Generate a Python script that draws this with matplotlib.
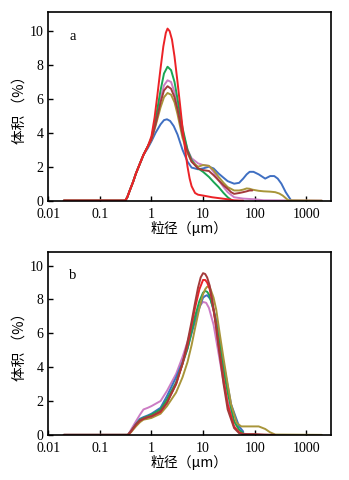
import matplotlib
matplotlib.use("Agg")
import matplotlib.pyplot as plt

# ---------------- data ----------------
xticks = [0.01, 0.1, 1, 10, 100, 1000]
xtick_labels = ["0.01", "0.1", "1", "10", "100", "1000"]
yticks = [0, 2, 4, 6, 8, 10]

# panel a
a_blue_x = [0.02, 0.31, 0.34, 0.38, 0.44, 0.5, 0.6, 0.7, 0.85, 1, 1.2, 1.5, 1.75, 2, 2.3, 2.7, 3.2, 4, 5, 6, 8, 10, 13, 16, 20, 25, 30, 40, 50, 60, 70, 80, 95, 120, 160, 200, 240, 280, 330, 400, 500]
a_blue_y = [0, 0, 0.2, 0.6, 1.1, 1.6, 2.2, 2.7, 3.1, 3.5, 4.0, 4.5, 4.75, 4.8, 4.7, 4.4, 3.9, 3.0, 2.3, 1.95, 1.85, 1.9, 2.0, 1.9, 1.6, 1.35, 1.15, 1.0, 1.05, 1.3, 1.55, 1.7, 1.7, 1.55, 1.3, 1.45, 1.45, 1.3, 1.0, 0.5, 0.05]

a_red_x = [0.02, 0.31, 0.34, 0.38, 0.44, 0.5, 0.6, 0.7, 0.85, 1, 1.15, 1.3, 1.5, 1.7, 1.9, 2.05, 2.25, 2.5, 2.8, 3.2, 3.6, 4, 4.5, 5, 5.5, 6, 7, 8, 10, 15, 20, 30, 40, 60]
a_red_y = [0, 0, 0.2, 0.6, 1.1, 1.6, 2.2, 2.7, 3.2, 3.8, 4.9, 6.2, 7.8, 9.1, 9.9, 10.15, 10.0, 9.5, 8.5, 7.0, 5.6, 4.3, 3.0, 2.0, 1.3, 0.85, 0.45, 0.35, 0.3, 0.2, 0.15, 0.08, 0.02, 0]

a_green_x = [0.02, 0.31, 0.34, 0.38, 0.44, 0.5, 0.6, 0.7, 0.85, 1, 1.2, 1.5, 1.75, 2.05, 2.4, 2.8, 3.2, 4, 5, 6, 8, 10, 13, 16, 20, 25, 30, 35]
a_green_y = [0, 0, 0.2, 0.6, 1.1, 1.6, 2.2, 2.7, 3.2, 3.7, 4.8, 6.5, 7.5, 7.9, 7.7, 7.0, 6.0, 4.3, 3.0, 2.4, 1.9, 1.7, 1.4, 1.1, 0.8, 0.45, 0.2, 0.05]

a_pink_x = [0.02, 0.31, 0.34, 0.38, 0.44, 0.5, 0.6, 0.7, 0.85, 1, 1.2, 1.5, 1.75, 2.05, 2.4, 2.8, 3.2, 4, 5, 6, 8, 10, 13, 16, 20, 25, 30, 40, 60, 100, 150, 2000]
a_pink_y = [0, 0, 0.2, 0.6, 1.1, 1.6, 2.2, 2.7, 3.2, 3.6, 4.6, 6.0, 6.8, 7.1, 7.0, 6.4, 5.6, 4.1, 3.0, 2.5, 2.2, 2.1, 2.05, 1.7, 1.2, 0.8, 0.5, 0.2, 0.12, 0.08, 0.02, 0]

a_brown_x = [0.02, 0.31, 0.34, 0.38, 0.44, 0.5, 0.6, 0.7, 0.85, 1, 1.2, 1.5, 1.75, 2.05, 2.4, 2.8, 3.2, 4, 5, 6, 8, 10, 13, 16, 20, 25, 30, 35, 40, 50, 60, 70, 80, 90]
a_brown_y = [0, 0, 0.2, 0.6, 1.1, 1.6, 2.2, 2.7, 3.2, 3.6, 4.5, 5.8, 6.5, 6.75, 6.6, 6.1, 5.4, 3.9, 2.9, 2.3, 1.9, 1.8, 1.75, 1.5, 1.2, 0.9, 0.7, 0.5, 0.4, 0.45, 0.5, 0.55, 0.6, 0.6]

a_olive_x = [0.02, 0.31, 0.34, 0.38, 0.44, 0.5, 0.6, 0.7, 0.85, 1, 1.2, 1.5, 1.75, 2.05, 2.4, 2.8, 3.2, 4, 5, 6, 8, 10, 13, 16, 20, 25, 30, 40, 50, 60, 70, 80, 90, 120, 150, 200, 250, 300, 350, 400, 450, 2000]
a_olive_y = [0, 0, 0.2, 0.6, 1.1, 1.6, 2.2, 2.7, 3.2, 3.6, 4.4, 5.5, 6.1, 6.35, 6.25, 5.8, 5.1, 3.7, 2.8, 2.3, 2.0, 2.1, 2.05, 1.8, 1.4, 1.05, 0.8, 0.6, 0.6, 0.65, 0.72, 0.7, 0.65, 0.58, 0.55, 0.53, 0.5, 0.42, 0.3, 0.15, 0.02, 0]

# panel b
b_pink_x = [0.02, 0.35, 0.4, 0.5, 0.6, 0.7, 0.85, 1, 1.5, 2, 3, 4, 5, 6, 7, 8.5, 10, 11.5, 13, 16, 20, 25, 30, 40, 50, 60, 70]
b_pink_y = [0, 0, 0.3, 0.8, 1.2, 1.5, 1.6, 1.7, 2.0, 2.6, 3.6, 4.6, 5.5, 6.3, 7.0, 7.6, 7.85, 7.8, 7.5, 6.5, 4.8, 3.1, 2.0, 0.8, 0.3, 0.1, 0.02]

b_brown_x = [0.02, 0.35, 0.4, 0.5, 0.6, 0.7, 0.85, 1, 1.5, 2, 3, 4, 5, 6, 7, 8, 9, 10, 11, 12, 13.5, 15, 17.5, 20, 25, 30, 40, 50, 60, 100, 150, 250]
b_brown_y = [0, 0, 0.2, 0.6, 0.85, 0.95, 1.05, 1.1, 1.4, 1.9, 3.0, 4.2, 5.5, 6.7, 7.8, 8.7, 9.3, 9.55, 9.5, 9.3, 8.8, 8.0, 6.6, 5.2, 3.0, 1.5, 0.4, 0.1, 0.05, 0.05, 0.02, 0]

b_red_x = [0.02, 0.35, 0.4, 0.5, 0.6, 0.7, 0.85, 1, 1.5, 2, 3, 4, 5, 6, 7, 8.5, 10, 11, 12, 13.5, 15, 17.5, 20, 25, 30, 40, 50, 60]
b_red_y = [0, 0, 0.2, 0.6, 0.85, 0.95, 1.05, 1.1, 1.35, 1.9, 3.0, 4.2, 5.3, 6.5, 7.5, 8.6, 9.15, 9.15, 9.0, 8.6, 7.9, 6.6, 5.3, 3.3, 1.8, 0.5, 0.15, 0.05]

b_green_x = [0.02, 0.35, 0.4, 0.5, 0.6, 0.7, 0.85, 1, 1.5, 2, 3, 4, 5, 6, 7, 8.5, 10, 11, 12, 13, 16, 20, 25, 30, 40, 50, 60]
b_green_y = [0, 0, 0.2, 0.6, 0.9, 1.0, 1.1, 1.2, 1.5, 2.1, 3.1, 4.2, 5.1, 6.1, 7.0, 7.9, 8.4, 8.5, 8.45, 8.3, 7.4, 5.8, 3.8, 2.5, 0.8, 0.3, 0.1]

b_blue_x = [0.02, 0.35, 0.4, 0.5, 0.6, 0.7, 0.85, 1, 1.5, 2, 3, 4, 5, 6, 7, 8.5, 10, 11, 12, 14, 18, 25, 35, 50, 60]
b_blue_y = [0, 0, 0.2, 0.65, 0.95, 1.05, 1.15, 1.25, 1.6, 2.3, 3.4, 4.3, 5.1, 6.0, 6.7, 7.5, 8.1, 8.2, 8.25, 8.0, 6.8, 4.2, 1.8, 0.5, 0.2]

b_olive_x = [0.02, 0.35, 0.4, 0.5, 0.6, 0.7, 0.85, 1, 1.5, 2, 3, 4, 5, 6, 7, 8.5, 10, 11, 12, 13, 14, 16, 18, 21, 25, 30, 35, 45, 55, 80, 120, 160, 200, 250, 2000]
b_olive_y = [0, 0, 0.15, 0.5, 0.75, 0.9, 0.95, 1.0, 1.25, 1.7, 2.5, 3.4, 4.3, 5.3, 6.3, 7.5, 8.3, 8.6, 8.75, 8.75, 8.6, 8.1, 7.4, 6.0, 4.5, 3.0, 1.8, 0.7, 0.5, 0.5, 0.5, 0.35, 0.15, 0.02, 0]

C_BLUE = "#3f6fc2"
C_RED = "#ec2227"
C_GREEN = "#1aa553"
C_PINK = "#cc7cc4"
C_BROWN = "#a33a3a"
C_OLIVE = "#a8953a"

series_a = [
    (a_blue_x, a_blue_y, C_BLUE),
    (a_pink_x, a_pink_y, C_PINK),
    (a_green_x, a_green_y, C_GREEN),
    (a_olive_x, a_olive_y, C_OLIVE),
    (a_brown_x, a_brown_y, C_BROWN),
    (a_red_x, a_red_y, C_RED),
]
series_b = [
    (b_pink_x, b_pink_y, C_PINK),
    (b_blue_x, b_blue_y, C_BLUE),
    (b_green_x, b_green_y, C_GREEN),
    (b_olive_x, b_olive_y, C_OLIVE),
    (b_red_x, b_red_y, C_RED),
    (b_brown_x, b_brown_y, C_BROWN),
]

plt.rcParams['font.family'] = ['Liberation Serif', 'Noto Sans CJK SC']
plt.rcParams['axes.unicode_minus'] = False

fig = plt.figure(figsize=(3.49, 4.8), dpi=100)
ax_a = fig.add_axes([0.137, 0.582, 0.811, 0.392])
ax_b = fig.add_axes([0.137, 0.094, 0.811, 0.381])

def style(ax, series, label, ytop):
    for x, y, c in series:
        ax.plot(x, y, color=c, lw=1.4, solid_joinstyle='round', solid_capstyle='round')
    ax.set_xscale('log')
    ax.set_xlim(0.0098, 3000)
    ax.set_ylim(0, ytop)
    ax.set_xticks(xticks)
    ax.set_xticklabels(xtick_labels)
    ax.minorticks_off()
    ax.set_yticks(yticks)
    ax.tick_params(direction='in', length=3.5, width=1.0, labelsize=10)
    ax.tick_params(axis='x', pad=5)
    ax.tick_params(axis='y', pad=3)
    for s in ax.spines.values():
        s.set_linewidth(1.2)
    ax.set_xlabel('粒径（μm）', fontsize=10, labelpad=0,
                  family=['Noto Sans CJK SC', 'DejaVu Sans'])
    ax.set_ylabel('体积 （%）', fontsize=10.5, labelpad=2,
                  family=['Noto Sans CJK SC', 'DejaVu Sans'])
    ax.text(0.089, 0.87, label, transform=ax.transAxes, fontsize=10.5,
            ha='center', va='center')

style(ax_a, series_a, 'a', 11.1)
style(ax_b, series_b, 'b', 10.8)

fig.savefig('out.png', dpi=100)
